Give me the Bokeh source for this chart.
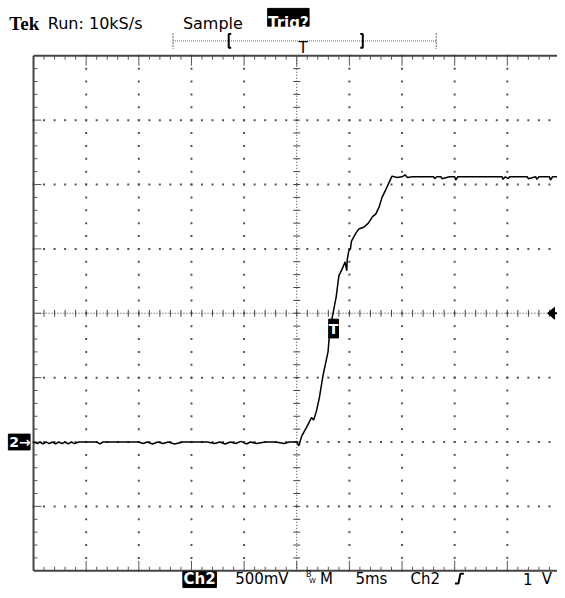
import numpy as np
from bokeh.plotting import figure
from bokeh.models import Range1d
from bokeh.core.properties import value
from bokeh.embed import file_html
from bokeh.resources import INLINE

# ---------------- data (read from the screen) ----------------
# time in ms from the left edge of the graticule, voltage in V relative to the Ch2 ground marker
t_trace = [0.0, 0.4, 0.6, 0.9, 1.2, 1.5, 1.8, 2.1, 2.4, 2.7, 3.0, 3.3, 3.6, 3.9, 4.3,
           5.0, 6.0, 6.3, 6.6, 7.4, 9.0, 10.0, 10.4, 10.8, 11.3, 11.8, 12.3, 12.8,
           13.4, 14.2, 15.5, 16.5, 17.2, 17.7, 18.2, 18.7, 19.2, 19.7, 20.2, 20.6,
           21.2, 22.0, 23.0, 23.8, 24.3, 24.8, 25.0, 25.2, 25.47, 25.94, 26.4, 26.6,
           26.87, 27.15, 27.5, 27.97, 28.1, 28.4, 28.75, 29.0, 29.4, 29.6, 29.75,
           29.8, 29.96, 30.1, 30.2, 30.6, 30.9, 31.4, 31.8, 32.2, 32.5, 32.8, 33.1,
           33.4, 33.9, 34.05, 34.5, 35.0, 35.3, 35.5, 36.0, 37.0, 38.0, 38.1, 38.3,
           38.7, 38.8, 39.5, 40.0, 40.1, 40.3, 42.0, 44.5, 44.6, 44.8, 45.1, 45.2,
           46.0, 46.9, 47.0, 47.7, 47.8, 48.0, 49.0, 49.1, 49.3, 50.0]
v_trace = [0.0, -0.012, 0.0, -0.015, 0.0, -0.012, 0.0, -0.015, 0.0, -0.012, 0.0, -0.015, 0.0, -0.012, 0.0,
           0.0, 0.0, -0.015, 0.0, 0.0, 0.0, 0.0, -0.012, 0.0, -0.015, 0.0, -0.012, 0.0,
           -0.015, 0.0, 0.0, 0.0, -0.012, 0.0, -0.015, 0.0, -0.012, 0.005, -0.015, 0.0,
           -0.012, 0.0, 0.0, -0.012, 0.0, 0.0, 0.0, -0.03, 0.046, 0.115, 0.19, 0.17,
           0.24, 0.345, 0.52, 0.70, 0.83, 0.98, 1.13, 1.29, 1.36, 1.40, 1.33,
           1.42, 1.49, 1.50, 1.56, 1.62, 1.655, 1.67, 1.70, 1.75, 1.77, 1.82, 1.90,
           1.95, 2.04, 2.065, 2.055, 2.06, 2.075, 2.055, 2.06, 2.06, 2.06, 2.045, 2.06,
           2.06, 2.045, 2.06, 2.06, 2.035, 2.06, 2.06, 2.06, 2.04, 2.06, 2.045, 2.06,
           2.06, 2.06, 2.045, 2.06, 2.04, 2.06, 2.06, 2.035, 2.06, 2.06]

time_div_ms = 5.0        # 5ms / div
volt_div = 0.5           # 500mV / div
n_div_x = 10
n_div_y = 8
gnd_div_below_center = 2  # Ch2 ground marker two divisions below centre
trig_level = 1.0          # "1 V"

top_labels = ["Run: 10kS/s", "Sample", "Trig?"]
bottom_labels = ["Ch2", "500mV", "M", "5ms", "Ch2", "1", "V"]

# ---------------- screen geometry (reference pixels, 565 x 598 screen) ----------------
SCR_W, SCR_H = 565, 598
X0_PX = 33.5
DIVX_PX = 53.4
DIVY_PX = 65.25
GND_PX = 447.5

def tx(px):
    return (px - X0_PX) / DIVX_PX * time_div_ms

def vy(py):
    return (GND_PX - py) / DIVY_PX * volt_div

# the whole screen is fitted into a canvas that fits the window (8px page margin)
W, H = 557, 590
p = figure(width=W, height=H, output_backend="svg", toolbar_location=None,
           x_range=Range1d(tx(0), tx(SCR_W)), y_range=Range1d(vy(SCR_H), vy(0)),
           min_border=0, min_border_left=0, min_border_right=0,
           min_border_top=0, min_border_bottom=0)
p.axis.visible = False
p.grid.visible = False
p.outline_line_color = None
p.background_fill_color = "white"
p.border_fill_color = "white"

t_max = n_div_x * time_div_ms
v_min = -gnd_div_below_center * volt_div
v_max = v_min + n_div_y * volt_div
t_c = t_max / 2
v_c = (v_min + v_max) / 2

sx = time_div_ms / DIVX_PX   # ms per px
sy = volt_div / DIVY_PX      # V per px

# ---- dotted graticule lines ----
dot_x, dot_y = [], []
for k in range(1, n_div_x):
    t = k * time_div_ms
    if abs(t - t_c) < 1e-9:
        continue
    for j in range(0, n_div_y * 5 + 1):
        dot_x.append(t)
        dot_y.append(v_min + j * volt_div / 5)
for k in range(1, n_div_y):
    v = v_min + k * volt_div
    if abs(v - v_c) < 1e-9:
        continue
    for j in range(0, n_div_x * 5 + 1):
        dot_x.append(j * time_div_ms / 5)
        dot_y.append(v)
p.rect(dot_x, dot_y, width=2, height=2, width_units="screen", height_units="screen",
       color="#555555", line_width=0)

# ---- centre cross ----
p.line([t_c, t_c], [v_min, v_max], line_color="#333333", line_width=1, line_dash="1 2")
p.line([0, t_max], [v_c, v_c], line_color="#333333", line_width=1, line_dash="1 2")
tk_x = [j * time_div_ms / 5 for j in range(n_div_x * 5 + 1)]
p.segment(tk_x, [v_c - 3.5 * sy] * len(tk_x), tk_x, [v_c + 3.5 * sy] * len(tk_x),
          line_color="#444444", line_width=1)
tk_y = [v_min + j * volt_div / 5 for j in range(n_div_y * 5 + 1)]
p.segment([t_c - 3.5 * sx] * len(tk_y), tk_y, [t_c + 3.5 * sx] * len(tk_y), tk_y,
          line_color="#444444", line_width=1)

# ---- border with inward ticks ----
p.line([0, 0], [v_min, v_max], line_color="#444444", line_width=2)
p.line([0, t_max], [v_max, v_max], line_color="#444444", line_width=2)
p.line([0, t_max], [v_min, v_min], line_color="#444444", line_width=2)
bt = [j * time_div_ms / 5 for j in range(1, n_div_x * 5)]
blen = [10 if j % 5 == 0 else 4 for j in range(1, n_div_x * 5)]
p.segment(bt, [v_max] * len(bt), bt, [v_max - l * sy for l in blen],
          line_color="#555555", line_width=1)
p.segment(bt, [v_min] * len(bt), bt, [v_min + l * sy for l in blen],
          line_color="#555555", line_width=1)
bv = [v_min + j * volt_div / 5 for j in range(1, n_div_y * 5)]
blv = [8 if j % 5 == 0 else 4 for j in range(1, n_div_y * 5)]
p.segment([0] * len(bv), bv, [l * sx for l in blv], bv, line_color="#555555", line_width=1)

# ---- trace ----
p.line(t_trace, v_trace, line_color="black", line_width=1.5)

# ---- markers ----
# Ch2 ground marker "2→"
p.quad(left=tx(8), right=tx(30), top=0 + 8 * sy, bottom=0 - 8 * sy, color="black")
p.text([tx(9)], [0], text=["2\u2192"], text_color="white", text_font=value("DejaVu Sans"),
       text_font_size="14px", text_font_style="bold", text_baseline="middle", text_align="left")

# trigger point marker "T"
t_trig = 28.4
p.quad(left=t_trig - 5 * sx + 0.1, right=t_trig + 5 * sx + 0.1, top=v_c - 6 * sy, bottom=v_c - 25 * sy,
       color="black")
p.text([t_trig + 0.1], [v_c - 15.5 * sy], text=["T"], text_color="white",
       text_font=value("DejaVu Sans"), text_font_size="14px", text_font_style="bold",
       text_align="center", text_baseline="middle")

# trigger level arrow on the right
p.patch([tx(555), tx(562), tx(562)], [trig_level, trig_level + 6 * sy, trig_level - 6 * sy], color="black")
p.line([tx(560), tx(565)], [trig_level, trig_level], line_color="black", line_width=2)

# ---- top status line ----
p.text([tx(9)], [vy(23)], text=["Tek"], text_font=value("Liberation Serif"), text_font_size="19px",
       text_font_style="bold", text_color="black", text_baseline="alphabetic")
p.text([tx(48)], [vy(23)], text=[top_labels[0]], text_font=value("DejaVu Sans"), text_font_size="16px",
       text_color="black", text_baseline="alphabetic")
p.text([tx(185)], [vy(23)], text=[top_labels[1]], text_font=value("DejaVu Sans"), text_font_size="16px",
       text_color="black", text_baseline="alphabetic")
p.quad(left=tx(271), right=tx(313), top=vy(8), bottom=vy(26), color="black")
p.text([tx(292)], [vy(23)], text=[top_labels[2]], text_font=value("DejaVu Sans"), text_font_size="15px",
       text_font_style="bold", text_color="white", text_baseline="alphabetic", text_align="center")

# record bar
p.line([tx(175), tx(442)], [vy(41), vy(41)], line_color="#666666", line_width=1, line_dash="1 1")
for xe in (175, 442):
    p.line([tx(xe), tx(xe)], [vy(33), vy(49)], line_color="#666666", line_width=1, line_dash="2 1")
p.line([tx(234), tx(231.5), tx(231.5), tx(234)], [vy(34), vy(34), vy(48), vy(48)],
       line_color="black", line_width=2)
p.line([tx(365), tx(367.5), tx(367.5), tx(365)], [vy(34), vy(34), vy(48), vy(48)],
       line_color="black", line_width=2)
p.text([tx(307)], [vy(48)], text=["T"], text_font=value("DejaVu Sans"), text_font_size="15px",
       text_color="black", text_align="center", text_baseline="alphabetic")

# ---- bottom status line ----
ym = vy(586.5)
p.quad(left=tx(185), right=tx(219), top=vy(579), bottom=vy(595), color="black")
p.text([tx(202)], [ym], text=[bottom_labels[0]], text_font=value("DejaVu Sans"), text_font_size="15px",
       text_font_style="bold", text_color="white", text_align="center", text_baseline="middle")
p.text([tx(238)], [ym], text=[bottom_labels[1]], text_font=value("DejaVu Sans"), text_font_size="15px",
       text_color="black", text_baseline="middle")
p.text([tx(310)], [vy(582)], text=["B"], text_font=value("DejaVu Sans"), text_font_size="8px",
       text_color="black", text_baseline="middle")
p.text([tx(313)], [vy(588)], text=["W"], text_font=value("DejaVu Sans"), text_font_size="7px",
       text_color="black", text_baseline="middle")
p.text([tx(324)], [ym], text=[bottom_labels[2]], text_font=value("DejaVu Sans"), text_font_size="15px",
       text_color="black", text_baseline="middle")
p.text([tx(360)], [ym], text=[bottom_labels[3]], text_font=value("DejaVu Sans"), text_font_size="15px",
       text_color="black", text_baseline="middle")
p.text([tx(416)], [ym], text=[bottom_labels[4]], text_font=value("DejaVu Sans"), text_font_size="15px",
       text_color="black", text_baseline="middle")
p.line([tx(461), tx(464.5), tx(466.5), tx(470)], [vy(591), vy(591), vy(581), vy(581)],
       line_color="black", line_width=2)
p.text([tx(530)], [ym], text=[bottom_labels[5]], text_font=value("DejaVu Sans"), text_font_size="15px",
       text_color="black", text_baseline="middle")
p.text([tx(549)], [ym], text=[bottom_labels[6]], text_font=value("DejaVu Sans"), text_font_size="15px",
       text_color="black", text_baseline="middle")

open("out.html", "w").write(file_html(p, INLINE))
